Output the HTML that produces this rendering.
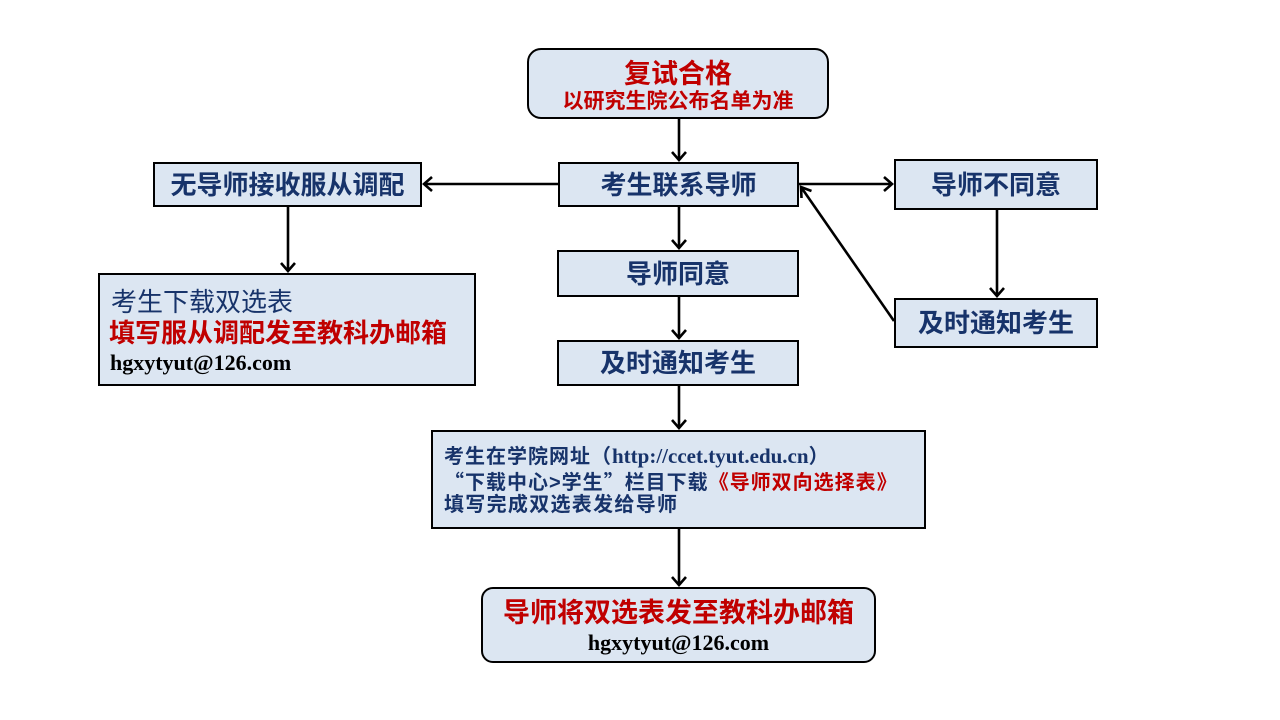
<!DOCTYPE html>
<html><head><meta charset="utf-8">
<style>
html,body{margin:0;padding:0;background:#fff;}
body{width:1280px;height:720px;position:relative;overflow:hidden;font-family:"Liberation Sans","Noto Sans CJK SC",sans-serif;}
.box{position:absolute;box-sizing:border-box;background:#dce6f2;border:2.5px solid #000;}
.t{position:absolute;left:0;width:100%;text-align:center;white-space:nowrap;}
.navy{color:#17336a;}
.red{color:#c00000;font-weight:bold;}
.lbl{font-size:26px;line-height:26px;font-weight:bold;color:#17336a;}
.mail{font-family:"Liberation Serif","Noto Sans CJK SC",serif;font-weight:bold;color:#000;font-size:22px;line-height:22px;}
svg{position:absolute;left:0;top:0;}
</style></head><body>

<!-- top box -->
<div class="box" style="left:527px;top:48px;width:302px;height:71px;border-radius:14px;">
  <div class="t red" style="top:11px;font-size:27px;line-height:27px;">复试合格</div>
  <div class="t red" style="top:41px;font-size:21px;line-height:21px;">以研究生院公布名单为准</div>
</div>

<!-- 考生联系导师 -->
<div class="box" style="left:558px;top:162px;width:241px;height:45px;">
  <div class="t lbl" style="top:8px;">考生联系导师</div>
</div>

<!-- 无导师接收服从调配 -->
<div class="box" style="left:153px;top:162px;width:269px;height:45px;">
  <div class="t lbl" style="top:8px;">无导师接收服从调配</div>
</div>

<!-- left big -->
<div class="box" style="left:98px;top:273px;width:378px;height:113px;">
  <div class="t" style="left:11px;text-align:left;top:14px;font-size:26px;line-height:26px;color:#17336a;">考生下载双选表</div>
  <div class="t red" style="left:9px;text-align:left;top:45px;font-size:26px;line-height:26px;">填写服从调配发至教科办邮箱</div>
  <div class="t mail" style="left:10px;text-align:left;top:77px;">hgxytyut@126.com</div>
</div>

<!-- 导师不同意 -->
<div class="box" style="left:894px;top:159px;width:204px;height:51px;">
  <div class="t lbl" style="top:11px;">导师不同意</div>
</div>

<!-- 及时通知考生 right -->
<div class="box" style="left:894px;top:298px;width:204px;height:50px;">
  <div class="t lbl" style="top:10px;">及时通知考生</div>
</div>

<!-- 导师同意 -->
<div class="box" style="left:557px;top:250px;width:242px;height:47px;">
  <div class="t lbl" style="top:9px;">导师同意</div>
</div>

<!-- 及时通知考生 center -->
<div class="box" style="left:557px;top:340px;width:242px;height:46px;">
  <div class="t lbl" style="top:8px;">及时通知考生</div>
</div>

<!-- big info box -->
<div class="box" style="left:431px;top:430px;width:495px;height:99px;">
  <div class="t" style="left:11px;text-align:left;top:14px;font-size:20px;line-height:20px;font-weight:bold;color:#17336a;letter-spacing:1px;">考生在学院网址（<span style="font-family:'Liberation Serif',serif;letter-spacing:0;font-size:21px;">http://ccet.tyut.edu.cn</span>）</div>
  <div class="t" style="left:11px;text-align:left;top:39px;font-size:20px;line-height:20px;font-weight:bold;color:#17336a;letter-spacing:1px;"><span style="font-family:'Noto Sans CJK SC',sans-serif;">“</span>下载中心&gt;学生<span style="font-family:'Noto Sans CJK SC',sans-serif;">”</span>栏目下载<span style="color:#c00000;"><span style="font-family:'Noto Sans CJK SC',sans-serif;">《</span>导师双向选择表<span style="font-family:'Noto Sans CJK SC',sans-serif;">》</span></span></div>
  <div class="t" style="left:11px;text-align:left;top:63px;font-size:20px;line-height:20px;font-weight:bold;color:#17336a;letter-spacing:1.3px;">填写完成双选表发给导师</div>
</div>

<!-- bottom box -->
<div class="box" style="left:481px;top:587px;width:395px;height:76px;border-radius:12px;">
  <div class="t red" style="top:11px;font-size:27px;line-height:27px;">导师将双选表发至教科办邮箱</div>
  <div class="t mail" style="top:43px;">hgxytyut@126.com</div>
</div>

<svg width="1280" height="720" viewBox="0 0 1280 720">
  <g stroke="#000" stroke-width="2.6" fill="none" stroke-linecap="butt" stroke-linejoin="miter">
    <!-- center vertical arrows -->
    <line x1="679" y1="119" x2="679" y2="160"/>
    <polyline points="672,152 679,160 686,152"/>
    <line x1="679" y1="207" x2="679" y2="248"/>
    <polyline points="672,240 679,248 686,240"/>
    <line x1="679" y1="297" x2="679" y2="338"/>
    <polyline points="672,330 679,338 686,330"/>
    <line x1="679" y1="386" x2="679" y2="428"/>
    <polyline points="672,420 679,428 686,420"/>
    <line x1="679" y1="529" x2="679" y2="585"/>
    <polyline points="672,577 679,585 686,577"/>
    <!-- left arrow -->
    <line x1="558" y1="184" x2="424" y2="184"/>
    <polyline points="432,177 424,184 432,191"/>
    <!-- left down -->
    <line x1="288" y1="207" x2="288" y2="271"/>
    <polyline points="281,263 288,271 295,263"/>
    <!-- right arrow -->
    <line x1="799" y1="184" x2="892" y2="184"/>
    <polyline points="884,177 892,184 884,191"/>
    <!-- right down -->
    <line x1="997" y1="210" x2="997" y2="296"/>
    <polyline points="990,288 997,296 1004,288"/>
    <!-- diagonal back -->
    <line x1="894" y1="321" x2="801" y2="187"/>
    <polyline points="801.5,198 801,187 811.5,191"/>
  </g>
</svg>
</body></html>
